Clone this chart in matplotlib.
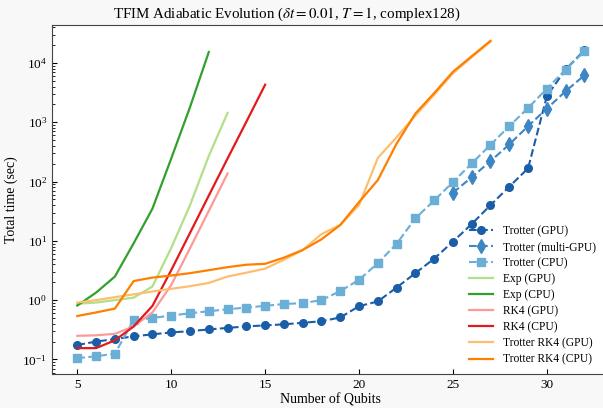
import numpy as np
import matplotlib
matplotlib.use("Agg")
import matplotlib.pyplot as plt

plt.rcParams['font.family'] = ['Liberation Serif', 'DejaVu Serif']
plt.rcParams['mathtext.fontset'] = 'stix'

# qubit counts
n_trot = list(range(5, 33))
n_multi = list(range(25, 33))
n_exp_gpu = list(range(5, 14))
n_exp_cpu = list(range(5, 13))
n_rk4_gpu = list(range(5, 14))
n_rk4_cpu = list(range(5, 16))
n_trk4 = list(range(5, 28))

# timings (sec)
trotter_gpu = [0.175, 0.20, 0.22, 0.245, 0.265, 0.285, 0.30, 0.32, 0.34, 0.36, 0.375, 0.39,
               0.415, 0.44, 0.51, 0.79, 0.95, 1.63, 2.85, 5.0, 9.7, 19.2, 40, 82, 167,
               2750, 7800, 16400]
trotter_multi = [65, 118, 221, 423, 860, 1700, 3340, 6200]
trotter_cpu = [0.105, 0.113, 0.125, 0.46, 0.50, 0.55, 0.60, 0.65, 0.70, 0.75, 0.80, 0.86,
               0.89, 1.0, 1.42, 2.2, 4.2, 8.9, 24, 48, 98, 202, 417, 860, 1740,
               3700, 7740, 15700]
exp_gpu = [0.87, 0.91, 1.0, 1.1, 1.7, 7.6, 40, 270, 1440]
exp_cpu = [0.81, 1.34, 2.5, 9.1, 35, 245, 1800, 15300]
rk4_gpu = [0.25, 0.255, 0.27, 0.36, 0.62, 1.8, 7.5, 32, 137]
rk4_cpu = [0.155, 0.155, 0.21, 0.36, 0.8, 3.2, 13.6, 58, 245, 1020, 4300]
trk4_gpu = [0.91, 1.0, 1.12, 1.25, 1.4, 1.55, 1.72, 1.95, 2.5, 2.9, 3.4, 4.8, 7.0, 13,
            18.5, 40, 250, 560, 1300, 2900, 6700, 12500, 23000]
trk4_cpu = [0.54, 0.62, 0.72, 2.1, 2.4, 2.6, 2.85, 3.2, 3.6, 3.95, 4.1, 5.2, 7.0, 10.6,
            18.5, 45, 106, 436, 1400, 3100, 7100, 13000, 23600]

fig = plt.figure(figsize=(6.03, 4.08), dpi=100)
fig.patch.set_facecolor('#f8f8f8')
ax = fig.add_axes([0.0862, 0.0833, 0.925, 0.8554])

ax.plot(n_trot, trotter_gpu, '--o', color='#1a5ea8', lw=1.5, ms=5.5, label='Trotter (GPU)')
ax.plot(n_multi, trotter_multi, '--d', color='#3d85c3', lw=1.5, ms=7, label='Trotter (multi-GPU)')
ax.plot(n_trot, trotter_cpu, '--s', color='#6baed6', lw=1.5, ms=5.5, label='Trotter (CPU)')
ax.plot(n_exp_gpu, exp_gpu, color='#b2df8a', lw=1.6, label='Exp (GPU)')
ax.plot(n_exp_cpu, exp_cpu, color='#33a02c', lw=1.6, label='Exp (CPU)')
ax.plot(n_rk4_gpu, rk4_gpu, color='#fb9a99', lw=1.6, label='RK4 (GPU)')
ax.plot(n_rk4_cpu, rk4_cpu, color='#e31a1c', lw=1.6, label='RK4 (CPU)')
ax.plot(n_trk4, trk4_gpu, color='#fdbf6f', lw=1.6, label='Trotter RK4 (GPU)')
ax.plot(n_trk4, trk4_cpu, color='#ff7f00', lw=1.6, label='Trotter RK4 (CPU)')

ax.set_yscale('log')
ax.set_xticks([5, 10, 15, 20, 25, 30])
ax.tick_params(axis='both', which='both', direction='in', labelsize=9.5)
for s in ax.spines.values():
    s.set_color('#444444')

ax.set_xlabel('Number of Qubits', fontsize=10, labelpad=2)
ax.set_ylabel('Total time (sec)', fontsize=10, labelpad=3)
ax.set_title(r'TFIM Adiabatic Evolution ($\delta t = 0.01$, $T = 1$, complex128)',
             fontsize=10.8, pad=5, x=0.421)
ax.legend(loc='lower right', bbox_to_anchor=(0.984, 0.011), borderaxespad=0,
          frameon=False, fontsize=8.3, handlelength=2.1,
          labelspacing=0.35, handletextpad=0.85)

fig.savefig('out.png', dpi=100, facecolor=fig.get_facecolor())
